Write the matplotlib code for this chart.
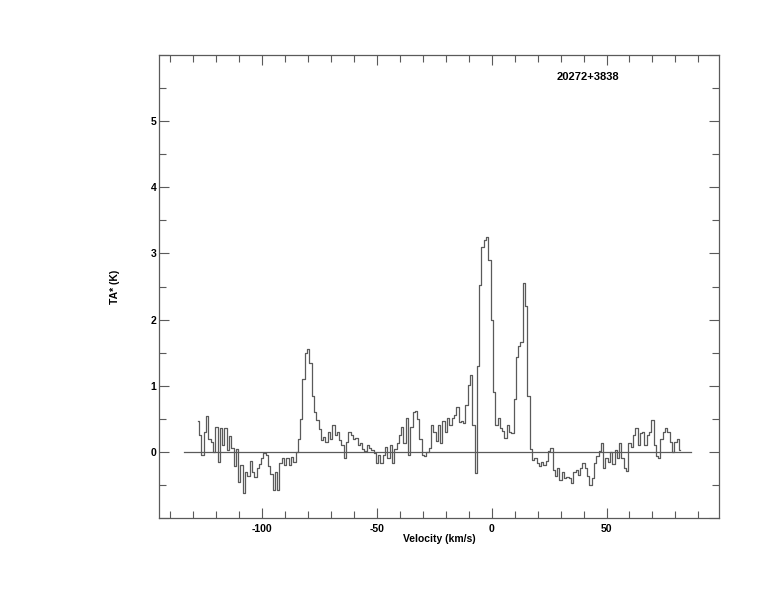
import numpy as np
import matplotlib
matplotlib.use("Agg")
import matplotlib.pyplot as plt
from matplotlib.ticker import MultipleLocator

plt.rcParams['axes.unicode_minus'] = False
plt.rcParams['font.family'] = ['Liberation Sans', 'DejaVu Sans']

# Velocity channels (km/s), 1 km/s spacing from -128 to 82
velocity = np.arange(-128, 83, 1.0)

# Antenna temperature TA* (K) per channel
ta = [
    0.47, 0.25, -0.05, 0.30, 0.54, 0.20, 0.15, 0.00, 0.37, -0.15,   # -128..-119
    0.36, 0.10, 0.36, 0.03, 0.24, 0.06, -0.22, 0.05, -0.45, -0.20,  # -118..-109
    -0.62, -0.30, -0.36, -0.14, -0.30, -0.38, -0.25, -0.19, -0.09, -0.01,  # -108..-99
    -0.05, -0.22, -0.33, -0.57, -0.30, -0.57, -0.17, -0.10, -0.20, -0.10,  # -98..-89
    -0.20, -0.08, -0.15, 0.00, 0.20, 0.50, 1.10, 1.50, 1.55, 1.34,  # -88..-79
    0.84, 0.60, 0.48, 0.35, 0.18, 0.23, 0.15, 0.30, 0.20, 0.41,     # -78..-69
    0.25, 0.30, 0.18, 0.10, -0.09, 0.15, 0.30, 0.25, 0.20, 0.21,    # -68..-59
    0.11, 0.13, 0.05, 0.01, 0.10, 0.06, 0.03, -0.02, -0.17, -0.05,  # -58..-49
    -0.17, -0.05, 0.08, -0.09, 0.10, -0.17, 0.05, 0.13, 0.26, 0.38, # -48..-39
    0.13, 0.51, -0.04, 0.38, 0.61, 0.62, 0.50, 0.20, -0.04, -0.06,  # -38..-29
    0.00, 0.06, 0.41, 0.30, 0.16, 0.41, 0.13, 0.46, 0.30, 0.51,     # -28..-19
    0.40, 0.51, 0.56, 0.68, 0.45, 0.46, 0.43, 0.71, 1.01, 1.16,     # -18..-9
    0.40, -0.32, 1.30, 2.52, 3.10, 3.20, 3.25, 2.90, 2.00, 0.90,    # -8..1
    0.41, 0.51, 0.36, 0.31, 0.21, 0.41, 0.30, 0.28, 0.80, 1.44,     # 2..11
    1.60, 1.66, 2.56, 2.20, 0.84, 0.05, -0.12, -0.10, -0.17, -0.22, # 12..21
    -0.15, -0.20, -0.14, 0.01, 0.06, -0.27, -0.37, -0.25, -0.42, -0.30,  # 22..31
    -0.40, -0.38, -0.40, -0.47, -0.30, -0.27, -0.35, -0.25, -0.17, -0.25,  # 32..41
    -0.37, -0.50, -0.40, -0.17, -0.07, 0.01, 0.13, -0.25, -0.10, -0.15,  # 42..51
    0.00, -0.19, 0.03, -0.10, 0.13, -0.10, -0.24, -0.29, 0.13, 0.07,  # 52..61
    0.26, 0.36, 0.10, 0.28, 0.30, 0.10, 0.25, 0.30, 0.48, 0.10,     # 62..71
    -0.06, -0.09, 0.20, 0.30, 0.36, 0.30, 0.15, 0.00, 0.15, 0.20,   # 72..81
    0.03,                                                           # 82
]

baseline_range = [-134, 87]
source_name = "20272+3838"
x_label = "Velocity (km/s)"
y_label = "TA* (K)"

color = "#5a5a5a"

fig = plt.figure(figsize=(7.74, 6.12), dpi=100)
ax = fig.add_axes([159/774, 1-518/612, (719-159)/774, (518-55)/612])

ax.plot(velocity, ta, drawstyle='steps-mid', color=color, lw=0.9)
ax.plot(baseline_range, [0, 0], color=color, lw=0.9)

ax.set_xlim(-145, 99)
ax.set_ylim(-1, 6)

ax.xaxis.set_major_locator(MultipleLocator(50))
ax.xaxis.set_minor_locator(MultipleLocator(10))
ax.yaxis.set_major_locator(MultipleLocator(1))
ax.yaxis.set_minor_locator(MultipleLocator(0.5))

ax.tick_params(which='both', direction='in', top=True, right=True, color=color)
ax.tick_params(which='major', length=7.5, width=0.8)
ax.tick_params(which='minor', length=5, width=0.8)
ax.tick_params(axis='x', which='major', pad=4, labelsize=7.5)
ax.tick_params(axis='y', which='major', pad=2, labelsize=7.5)

def yfmt(v, pos):
    return "" if v < 0 or v > 5.5 else "%d" % v
ax.yaxis.set_major_formatter(plt.FuncFormatter(yfmt))
def xfmt(v, pos):
    return "%d" % v
ax.xaxis.set_major_formatter(plt.FuncFormatter(xfmt))
for lab in ax.get_xticklabels() + ax.get_yticklabels():
    lab.set_fontweight('bold')

for s in ax.spines.values():
    s.set_color(color)
    s.set_linewidth(0.9)

ax.set_xlabel(x_label, fontsize=7.5, fontweight='bold', labelpad=0)
ax.set_ylabel(y_label, fontsize=7.5, fontweight='bold', labelpad=22)

ax.text(28.3, 5.66, source_name, fontsize=8, fontweight='bold', ha='left', va='center')

fig.savefig("out.png", dpi=100)
